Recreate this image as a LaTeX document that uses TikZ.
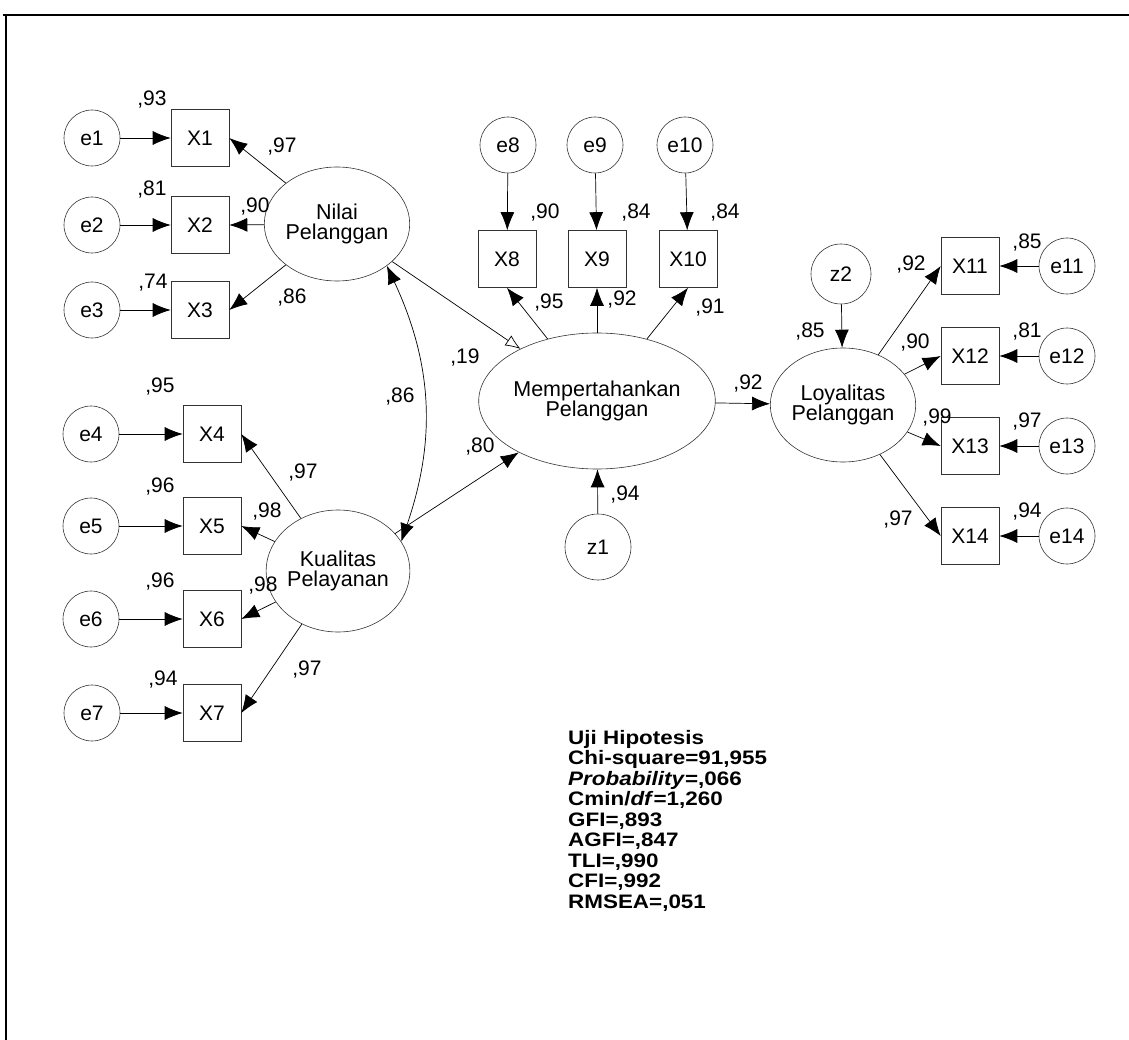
\documentclass[tikz,border=0pt]{standalone}
\usepackage{fontspec}
\setmainfont{Liberation Sans}
\newfontfamily\statfont[FakeStretch=1.15]{Liberation Sans}
\usetikzlibrary{arrows.meta,shapes.geometric}
\begin{document}
\begin{tikzpicture}[x=1pt,y=-1pt,
  lbl/.style={font=\fontsize{21}{21}\selectfont, inner sep=0pt},
  errc/.style={circle, draw=black!80, line width=0.6pt, minimum size=56pt, inner sep=0pt, font=\fontsize{21}{21}\selectfont},
  obs/.style={rectangle, draw=black!80, line width=0.6pt, minimum width=58pt, minimum height=57pt, inner sep=0pt, font=\fontsize{21}{21}\selectfont},
  lat/.style={ellipse, draw=black!80, line width=0.6pt, inner sep=0pt, align=center, font=\fontsize{21.5}{20.5}\selectfont},
  arr/.style={-{Latex[length=18pt,width=14pt]}, line width=0.7pt},
  arropen/.style={-{Latex[open,length=15pt,width=12pt]}, line width=0.7pt},
  arrboth/.style={{Latex[length=18pt,width=14pt]}-{Latex[length=18pt,width=14pt]}, line width=0.7pt},
  frame/.style={line width=1.1pt}
]
\useasboundingbox (0,0) rectangle (1129,1040);
% frame
\coordinate (ftl) at (6,15);
\coordinate (ftr) at (1129,15);
\coordinate (fbl) at (6,1040);
\coordinate (fst) at (3,15);
\draw[frame] (fst) -- (ftr);
\draw[frame] (ftl) -- (fbl);

% left top block
\node[errc] (e1) at (92,138) {e1};
\node[errc] (e2) at (92,225) {e2};
\node[errc] (e3) at (92,310) {e3};
\node[obs] (X1) at (200,138) {X1};
\node[obs] (X2) at (200,225) {X2};
\node[obs] (X3) at (200,310) {X3};
\node[lat, minimum width=112pt, minimum height=114pt] (NP) at (337,224) {Nilai\\Pelanggan};

% left bottom block
\node[errc] (e4) at (91,434) {e4};
\node[errc] (e5) at (91,526) {e5};
\node[errc] (e6) at (91,619) {e6};
\node[errc] (e7) at (92,713) {e7};
\node[obs] (X4) at (212,434) {X4};
\node[obs] (X5) at (212,526) {X5};
\node[obs] (X6) at (212,619) {X6};
\node[obs] (X7) at (212,713) {X7};
\node[lat, minimum width=122pt, minimum height=122pt] (KP) at (338,571) {Kualitas\\Pelayanan};

% middle block
\node[errc] (e8) at (508,145) {e8};
\node[errc] (e9) at (595,145) {e9};
\node[errc] (e10) at (685,145) {e10};
\node[obs] (X8) at (507,259) {X8};
\node[obs] (X9) at (597,259) {X9};
\node[obs] (X10) at (688,259) {X10};
\node[lat, minimum width=184pt, minimum height=136pt] (MP) at (597,401) {Mempertahankan\\Pelanggan};
\node[errc, minimum size=66pt] (z1) at (598,547) {z1};

% right block
\node[errc, minimum size=60pt] (z2) at (841,274) {z2};
\node[lat, minimum width=130pt, minimum height=114pt] (LP) at (843,405) {Loyalitas\\Pelanggan};
\node[obs] (X11) at (970,266) {X11};
\node[obs] (X12) at (970,356) {X12};
\node[obs] (X13) at (970,446) {X13};
\node[obs] (X14) at (970,536) {X14};
\node[errc] (e11) at (1067,266) {e11};
\node[errc] (e12) at (1067,356) {e12};
\node[errc] (e13) at (1067,446) {e13};
\node[errc] (e14) at (1067,536) {e14};

% error arrows
\foreach \i in {1,...,7} {\draw[arr] (e\i) -- (X\i);}
\foreach \i in {8,9,10} {\draw[arr] (e\i) -- (X\i);}
\foreach \i in {11,...,14} {\draw[arr] (e\i) -- (X\i);}

% loadings
\draw[arr] (NP) -- (X1.east);
\draw[arr] (NP) -- (X2.east);
\draw[arr] (NP) -- (X3.east);
\draw[arr] (KP) -- (X4.east);
\draw[arr] (KP) -- (X5.east);
\draw[arr] (KP) -- (X6.east);
\draw[arr] (KP) -- (X7.east);
\draw[arr] (MP) -- (X8.south);
\draw[arr] (MP) -- (X9.south);
\draw[arr] (MP) -- (X10.south);
\draw[arr] (LP) -- (X11.west);
\draw[arr] (LP) -- (X12.west);
\draw[arr] (LP) -- (X13.west);
\draw[arr] (LP) -- (X14.west);

% structural paths
\draw[arropen] (NP) -- (MP);
\draw[arr] (KP) -- (MP);
\draw[arr] (MP) -- (LP);
\draw[arr] (z1) -- (MP);
\draw[arr] (z2) -- (LP);
\draw[arrboth] (NP.-40) to[bend left=22] (KP.25);

% coefficient labels
\node[lbl] (r1) at (152,100) {,93};
\node[lbl] (l1) at (282,147) {,97};
\node[lbl] (r2) at (152,190) {,81};
\node[lbl] (l2) at (255,207) {,90};
\node[lbl] (r3) at (153,283) {,74};
\node[lbl] (l3) at (292,298) {,86};
\node[lbl] (r4) at (160,387) {,95};
\node[lbl] (l4) at (303,473) {,97};
\node[lbl] (r5) at (160,487) {,96};
\node[lbl] (l5) at (267,512) {,98};
\node[lbl] (r6) at (160,582) {,96};
\node[lbl] (l6) at (263,586) {,98};
\node[lbl] (r7) at (163,680) {,94};
\node[lbl] (l7) at (307,670) {,97};
\node[lbl] (cov) at (400,397) {,86};
\node[lbl] (b1) at (465,358) {,19};
\node[lbl] (b2) at (480,447) {,80};
\node[lbl] (r8) at (545,213) {,90};
\node[lbl] (r9) at (636,213) {,84};
\node[lbl] (r10) at (725,213) {,84};
\node[lbl] (l8) at (549,303) {,95};
\node[lbl] (l9) at (622,300) {,92};
\node[lbl] (l10) at (710,308) {,91};
\node[lbl] (b3) at (748,384) {,92};
\node[lbl] (rz1) at (625,495) {,94};
\node[lbl] (rz2) at (810,332) {,85};
\node[lbl] (l11) at (911,265) {,92};
\node[lbl] (r11) at (1027,243) {,85};
\node[lbl] (l12) at (915,343) {,90};
\node[lbl] (r12) at (1027,332) {,81};
\node[lbl] (l13) at (937,418) {,99};
\node[lbl] (r13) at (1027,422) {,97};
\node[lbl] (l14) at (898,520) {,97};
\node[lbl] (r14) at (1027,512) {,94};

% fit statistics
\node[anchor=north west, align=left, inner sep=0pt, font=\statfont\bfseries\fontsize{19.5}{20.5}\selectfont] (stats) at (568,730)
  {Uji Hipotesis\\Chi-square=91,955\\\textit{Probability}=,066\\Cmin/\textit{df}=1,260\\GFI=,893\\AGFI=,847\\TLI=,990\\CFI=,992\\RMSEA=,051};
\end{tikzpicture}
\end{document}
